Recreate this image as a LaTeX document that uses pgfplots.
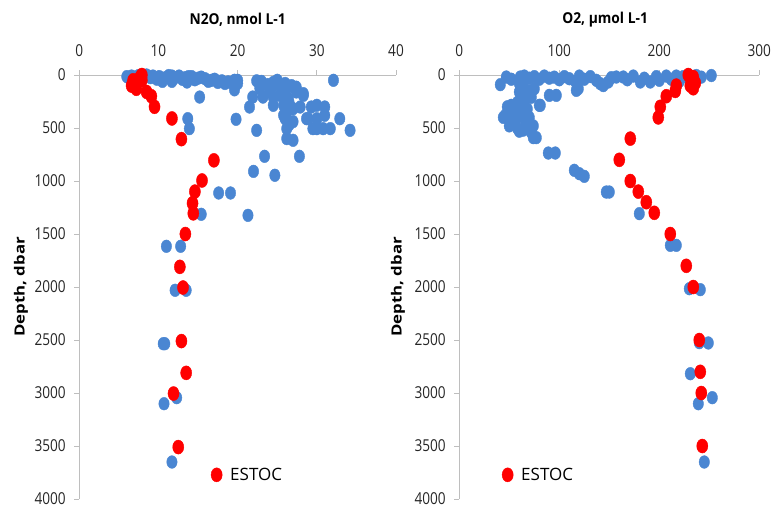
\documentclass[border=0pt]{standalone}
\usepackage{fontspec}
\setmainfont{Open Sans}[FakeStretch=0.83]
\newfontfamily\titlefont{Open Sans}[FakeStretch=0.92]
\newfontfamily\rotfont{Open Sans}[FakeStretch=1.2]
\newfontfamily\legfont{Open Sans}
\usepackage{pgfplots}
\pgfplotsset{compat=1.18}

\definecolor{ptblue}{RGB}{74,134,210}
\definecolor{estoc}{RGB}{255,0,0}
\definecolor{axgray}{RGB}{190,190,190}

\pgfplotsset{profile/.style={
  scale only axis, height=424pt,
  ymin=0, ymax=4000, y dir=reverse,
  ytick={0,500,...,4000},
  axis x line*=top, axis y line*=left,
  axis line style={draw=axgray, line width=0.9pt, -},
  tick style={draw=axgray, line width=0.9pt},
  major tick length=5pt, tick align=outside,
  tick label style={font=\fontsize{16.4}{19}\selectfont, text=black!85},
  xticklabel shift=10pt,
  yticklabel shift=5pt,
  /pgf/number format/assume math mode=true,
  /pgf/number format/1000 sep={},
  ylabel={Depth, dbar},
  legend style={draw=none, fill=none, font=\legfont\fontsize{17}{20}\selectfont,
    anchor=west, /tikz/every odd column/.append style={column sep=6pt}},
  clip=false,
}}
\pgfplotsset{
  blue dots/.style={only marks, mark=*, mark size=5.8pt, color=ptblue,
    mark options={xscale=0.9, yscale=1.1}, forget plot},
  red dots/.style={only marks, mark=*, mark size=6.4pt, color=estoc,
    mark options={xscale=0.87, yscale=1.1}},
}

\begin{document}
\begin{tikzpicture}
\useasboundingbox (0pt,0pt) rectangle (774pt,-509pt);

% ---------------- N2O profile ----------------
\begin{axis}[profile,
  at={(79.3pt,-75pt)}, anchor=north west,
  width=316.7pt,
  xmin=0, xmax=40, xtick={0,10,...,40},
  title={N2O, nmol L-1},
  title style={at={(axis description cs:0.5,1.117)}, anchor=center, yshift=0pt,
    font=\titlefont\bfseries\fontsize{15}{18}\selectfont},
  ylabel style={at={(axis description cs:-0.184,0.5)}, anchor=center, rotate=0,
    font=\rotfont\bfseries\fontsize{14}{17}\selectfont},
  legend style={at={(axis description cs:0.406,0.057)}},
]
\addplot[blue dots] table {
x y
6.0 15
6.3 30
6.6 10
7.0 20
7.5 5
8.0 15
8.5 0
9.0 25
9.3 10
9.8 40
10.1 15
10.2 35
10.5 60
10.9 25
11.3 5
11.7 10
11.7 60
12.0 30
12.6 10
13.0 40
13.4 25
13.6 66
13.8 15
14.2 15
14.6 45
15.0 30
15.4 20
15.9 35
16.3 60
16.7 50
17.1 40
17.5 70
18.0 55
18.4 80
18.8 65
19.2 70
19.6 50
20.0 50
20.0 80
19.6 140
15.2 208
13.7 412
13.9 506
19.8 418
21.9 208
21.5 302
22.4 55
22.4 522
23.2 208
23.4 767
22.0 909
24.7 946
27.8 767
17.6 1113
19.1 1113
15.4 1314
21.3 1324
11.0 1616
12.8 1616
32.1 50
23.0 60
23.8 90
24.5 70
24.5 97
25.0 50
25.3 97
25.6 130
26.2 129
26.0 80
26.8 100
27.4 115
27.4 160
28.3 176
28.3 192
25.3 192
26.4 224
24.0 160
22.8 126
24.5 208
24.5 286
25.8 286
26.5 260
27.0 318
27.9 302
26.2 350
25.8 380
26.0 412
27.0 440
29.3 302
30.0 286
31.0 302
28.7 412
28.9 412
30.0 412
31.0 380
32.9 412
29.5 506
30.0 506
30.8 506
31.7 506
34.2 522
26.2 506
26.5 470
26.2 600
27.0 616
12.1 2031
13.5 2031
10.6 2535
10.8 2535
12.3 3044
10.7 3101
11.7 3651
};
\addplot[red dots] table {
x y
7.9 0
7.7 20
7.9 50
6.8 50
7.2 75
6.6 100
7.2 130
8.5 160
9.1 200
9.5 300
11.7 410
12.9 605
17.0 805
15.5 995
14.6 1100
14.3 1210
14.4 1305
13.4 1500
12.7 1810
13.1 2005
12.9 2510
13.5 2810
11.9 3005
12.5 3510
};
\addlegendentry{ESTOC}
\end{axis}

% ---------------- O2 profile ----------------
\begin{axis}[profile,
  at={(459.3pt,-75pt)}, anchor=north west,
  width=300pt,
  xmin=0, xmax=300, xtick={0,100,...,300},
  title={O2, µmol L-1},
  title style={at={(axis description cs:0.486,1.117)}, anchor=center, yshift=0pt,
    font=\titlefont\bfseries\fontsize{15}{18}\selectfont},
  ylabel style={at={(axis description cs:-0.204,0.5)}, anchor=center, rotate=0,
    font=\rotfont\bfseries\fontsize{14}{17}\selectfont},
  legend style={at={(axis description cs:0.132,0.057)}},
]
\addplot[blue dots] table {
x y
47 19
41 91
52 40
61 19
60 60
65 10
70 30
75 15
80 40
85 10
90 30
95 20
100 45
105 15
110 35
116 60
120 10
125 40
131 15
137 50
141 82
144 100
149 66
152 25
157 19
164 19
168 45
174 10
181 66
185 30
191 66
197 15
200 50
207 10
212 40
217 10
220 60
224 15
230 5
237 5
242 20
252 5
117 145
97 192
90 192
119 129
81 286
80 286
60 80
62 100
64 120
66 140
60 160
70 150
75 130
68 180
62 200
72 210
65 240
58 260
52 286
48 300
55 320
62 300
68 320
60 340
50 360
46 380
44 400
52 410
58 400
64 380
70 400
66 430
55 450
50 480
58 500
64 520
70 500
74 480
72 540
60 530
74 591
77 591
89 736
96 736
115 899
120 931
125 956
147 1104
150 1104
180 1308
211 1607
217 1607
230 2016
241 2025
240 2525
249 2528
231 2818
239 3101
253 3044
245 3651
};
\addplot[red dots] table {
x y
229 0
234 20
232 50
236 75
231 100
234 125
217 100
216 150
207 200
201 300
199 400
171 600
160 800
171 1000
179 1100
187 1200
195 1300
211 1500
227 1800
234 2000
240 2500
241 2800
242 3000
243 3500
};
\addlegendentry{ESTOC}
\end{axis}
\end{tikzpicture}
\end{document}
